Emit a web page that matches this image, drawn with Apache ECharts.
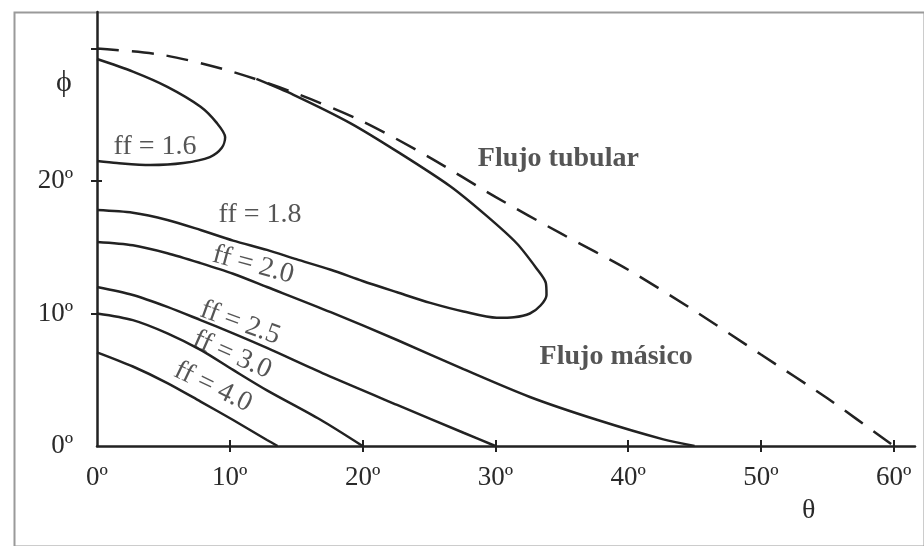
<!DOCTYPE html>
<html>
<head>
<meta charset="utf-8">
<script src="https://cdn.jsdelivr.net/npm/echarts@6/dist/echarts.min.js"></script>
<style>
html,body{margin:0;padding:0;background:#fff;}
#chart{width:924px;height:546px;}
</style>
</head>
<body>
<div id="chart"></div>
<script>
// ---- data (θ in degrees, ϕ in degrees) ----
const xTickValues = [0, 10, 20, 30, 40, 50, 60];
const xTickLabels = ['0º', '10º', '20º', '30º', '40º', '50º', '60º'];
const yTickValues = [0, 10, 20];
const yTickLabels = ['0º', '10º', '20º'];
const xTickMarks = [10, 20, 30, 40, 50, 60];
const yTickMarks = [10, 20, 30];

const boundaryTheta = [0, 5, 10, 15, 20, 25, 30, 35, 40, 45, 50, 55, 60];
const boundaryPhi   = [30.0, 29.5, 28.3, 26.6, 24.5, 21.8, 18.8, 16.0, 13.3, 10.2, 6.9, 3.6, 0];

const ff16Theta = [0, 2.7, 5.3, 7.8, 9.0, 9.65, 9.4, 8.5, 6.5, 4.0, 1.5, 0];
const ff16Phi   = [29.2, 28.25, 27.1, 25.6, 24.4, 23.3, 22.5, 21.8, 21.35, 21.2, 21.35, 21.5];

const ff18Theta = [12.0, 14.8, 19.1, 22.8, 26.6, 29.3, 31.6, 33.1, 33.8, 33.85, 33.4, 32.6, 31.4, 30.1, 27.6, 25.1, 22.6, 20.0, 17.6, 15.0, 12.8, 10.25, 7.8, 5.3, 2.7, 0];
const ff18Phi   = [27.7, 26.5, 24.35, 22.1, 19.6, 17.4, 15.3, 13.4, 12.3, 11.4, 10.6, 10.0, 9.72, 9.68, 10.15, 10.8, 11.6, 12.45, 13.3, 14.1, 14.8, 15.5, 16.3, 17.06, 17.6, 17.8];

const ff20Theta = [0, 2.7, 5.3, 7.8, 10.25, 12.8, 17.6, 22.6, 27.6, 32.6, 37.7, 42.65, 45];
const ff20Phi   = [15.4, 15.15, 14.55, 13.8, 13.0, 12.0, 10.1, 8.0, 5.8, 3.7, 1.96, 0.5, 0];

const ff25Theta = [0, 2.7, 5.3, 7.8, 10.25, 12.8, 17.2, 22.6, 27.6, 30];
const ff25Phi   = [12.0, 11.4, 10.5, 9.5, 8.5, 7.4, 5.4, 3.1, 1.0, 0];

const ff30Theta = [0, 2.7, 5.3, 7.8, 10.25, 12.8, 16.8, 20];
const ff30Phi   = [10.0, 9.5, 8.5, 7.25, 5.74, 4.2, 2.0, 0];

const ff40Theta = [0, 2.7, 5.3, 7.8, 10.25, 12.8, 13.6];
const ff40Phi   = [7.07, 6.0, 4.75, 3.35, 1.96, 0.45, 0];

const annotationTexts = ['ff = 1.6', 'ff = 1.8', 'ff = 2.0', 'ff = 2.5', 'ff = 3.0', 'ff = 4.0', 'Flujo tubular', 'Flujo másico'];
const annotationTheta = [4.37, 12.28, 11.76, 10.78, 10.17, 8.74, 34.74, 39.1];
const annotationPhi   = [22.57, 17.43, 13.66, 9.28, 6.87, 4.45, 21.7, 6.72];

// ---- styles ----
const INK = '#222222';
const TEXT = '#2a2a2a';
const FONT = '"Liberation Serif", "Times New Roman", serif';
const annotationRotate = [0, 0, -15, -20, -24, -26, 0, 0];
const annotationBold = [false, false, false, false, false, false, true, true];

function pairs(xs, ys) { return xs.map((x, i) => [x, ys[i]]); }

function curve(name, xs, ys, dashed) {
  return {
    name: name, type: 'line', data: pairs(xs, ys),
    showSymbol: false, symbol: 'none', smooth: 0.28,
    lineStyle: { color: INK, width: 2.5, type: dashed ? [22, 13] : 'solid', cap: 'butt' },
    silent: true, animation: false, z: 3
  };
}

const chart = echarts.init(document.getElementById('chart'), null, { renderer: 'canvas' });

const xMax = 61.6, yMax = 32.75;
const tickStyle = { color: INK, width: 2 };

chart.setOption({
  animation: false,
  backgroundColor: '#ffffff',
  grid: [
    { left: 97, right: 9, top: 12, bottom: 100, containLabel: false },
    { left: 96, width: 1, top: 12, bottom: 100, containLabel: false },
    { left: 97, right: 9, top: 445, height: 1, containLabel: false }
  ],
  xAxis: [
    {
      gridIndex: 0, type: 'value', min: 0, max: xMax, interval: 10, position: 'bottom',
      axisLine: { show: true, onZero: false, lineStyle: { color: INK, width: 2.5 } },
      axisTick: { show: true, inside: false, length: 6, customValues: xTickMarks, lineStyle: tickStyle },
      axisLabel: {
        show: true, customValues: xTickValues, margin: 18,
        color: TEXT, fontFamily: FONT, fontSize: 27,
        formatter: v => xTickLabels[xTickValues.indexOf(Math.round(v))] || ''
      },
      splitLine: { show: false }
    },
    { gridIndex: 1, type: 'value', min: 0, max: 1, show: false },
    {
      gridIndex: 2, type: 'value', min: 0, max: xMax, interval: 10, position: 'top',
      axisLine: { show: false },
      axisTick: { show: true, inside: false, length: 6, customValues: xTickMarks, lineStyle: tickStyle },
      axisLabel: { show: false },
      splitLine: { show: false }
    }
  ],
  yAxis: [
    {
      gridIndex: 0, type: 'value', min: 0, max: yMax, interval: 10, position: 'left',
      axisLine: { show: true, onZero: false, lineStyle: { color: INK, width: 2.5 } },
      axisTick: { show: true, inside: false, length: 6, customValues: yTickMarks, lineStyle: tickStyle },
      axisLabel: {
        show: true, customValues: yTickValues, margin: 24,
        color: TEXT, fontFamily: FONT, fontSize: 27, padding: [0, 0, 10, 0],
        formatter: v => yTickLabels[yTickValues.indexOf(Math.round(v))] || ''
      },
      splitLine: { show: false }
    },
    {
      gridIndex: 1, type: 'value', min: 0, max: yMax, interval: 10, position: 'right',
      axisLine: { show: false },
      axisTick: { show: true, inside: false, length: 6, customValues: yTickMarks, lineStyle: tickStyle },
      axisLabel: { show: false },
      splitLine: { show: false }
    },
    { gridIndex: 2, type: 'value', min: 0, max: 1, show: false }
  ],
  series: [
    curve('boundary', boundaryTheta, boundaryPhi, true),
    curve('ff=1.6', ff16Theta, ff16Phi),
    curve('ff=1.8', ff18Theta, ff18Phi),
    curve('ff=2.0', ff20Theta, ff20Phi),
    curve('ff=2.5', ff25Theta, ff25Phi),
    curve('ff=3.0', ff30Theta, ff30Phi),
    curve('ff=4.0', ff40Theta, ff40Phi),
    {
      type: 'scatter', silent: true, animation: false, z: 5,
      symbol: 'circle', symbolSize: 1, itemStyle: { color: 'rgba(0,0,0,0)' },
      data: annotationTexts.map((t, i) => ({
        name: t,
        value: [annotationTheta[i], annotationPhi[i]],
        label: {
          show: true, position: 'inside', formatter: t,
          rotate: annotationRotate[i],
          color: TEXT, fontFamily: FONT, fontSize: 28,
          fontWeight: annotationBold[i] ? 'bold' : 'normal'
        }
      }))
    }
  ],
  graphic: [
    { type: 'rect', left: 12, top: 10, z: -1, silent: true,
      shape: { width: 910, height: 534 },
      style: { fill: 'none', stroke: '#9a9a9a', lineWidth: 2 } },
    { type: 'text', left: 56, top: 68, silent: true,
      style: { text: 'ϕ', font: '30px "Liberation Serif", "DejaVu Serif", serif', fill: TEXT } },
    { type: 'text', left: 802, top: 497, silent: true,
      style: { text: 'θ', font: '28px "Liberation Serif", serif', fill: TEXT } }
  ]
});
</script>
</body>
</html>
